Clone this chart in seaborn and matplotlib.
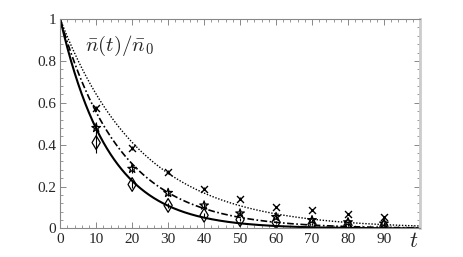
import numpy as np
import pandas as pd
import matplotlib
matplotlib.use("Agg")
import matplotlib.pyplot as plt
import seaborn as sns
from matplotlib.ticker import MultipleLocator, FixedLocator

# ---- data ----
t_points = [10, 20, 30, 40, 50, 60, 70, 80, 90]
series_x = [0.575, 0.385, 0.27, 0.19, 0.143, 0.103, 0.087, 0.068, 0.054]
series_star = [0.48, 0.285, 0.17, 0.11, 0.072, 0.055, 0.04, 0.03, 0.024]
series_diamond = [0.41, 0.21, 0.11, 0.063, 0.042, 0.03, 0.02, 0.015, 0.01]
err_x = [0.012, 0.01, 0.008, 0.006, 0.005, 0.004, 0.004, 0.004, 0.004]
err_star = [0.03, 0.02, 0.015, 0.012, 0.01, 0.008, 0.007, 0.006, 0.006]
err_diamond = [0.05, 0.015, 0.012, 0.01, 0.008, 0.006, 0.005, 0.005, 0.004]
# decay times of the theory curves n(t)/n0 = exp(-t/tau)
tau_dotted = 22.5
tau_dashdot = 17.0
tau_solid = 13.5
x_ticks = [0, 10, 20, 30, 40, 50, 60, 70, 80, 90]
y_ticks = [0, 0.2, 0.4, 0.6, 0.8, 1.0]
y_tick_labels = ["0", "0.2", "0.4", "0.6", "0.8", "1"]

sns.set_style("ticks")
plt.rcParams["font.family"] = ["Liberation Serif", "DejaVu Serif"]
plt.rcParams["mathtext.fontset"] = "cm"

fig = plt.figure(figsize=(4.63, 2.57), dpi=100)
ax = fig.add_axes([0.13, 0.111, 0.777, 0.815])

tgrid = np.linspace(0, 100, 400)
curves = pd.DataFrame({
    "t": tgrid,
    "dotted": np.exp(-tgrid / tau_dotted),
    "dashdot": np.exp(-tgrid / tau_dashdot),
    "solid": np.exp(-tgrid / tau_solid),
})
sns.lineplot(data=curves, x="t", y="dotted", ax=ax, color="black", lw=1.0,
             linestyle=(0, (1, 1.2)))
sns.lineplot(data=curves, x="t", y="dashdot", ax=ax, color="black", lw=1.2,
             linestyle=(0, (4, 1.5, 1, 1.5)))
sns.lineplot(data=curves, x="t", y="solid", ax=ax, color="black", lw=1.5)

for vals, errs, mk, ms in [(series_x, err_x, "x", 5),
                           (series_star, err_star, "*", 6.5),
                           (series_diamond, err_diamond, "d", 7)]:
    ax.errorbar(t_points, vals, yerr=errs, fmt="none", ecolor="black",
                elinewidth=0.8, capsize=0)
    df = pd.DataFrame({"t": t_points, "v": vals})
    if mk == "x":
        sns.scatterplot(data=df, x="t", y="v", ax=ax, marker="x", s=ms**2,
                        color="black", linewidth=1.0)
    else:
        sns.scatterplot(data=df, x="t", y="v", ax=ax, marker=mk, s=ms**2,
                        facecolor="none", edgecolor="black", linewidth=0.9)

ax.set_xlim(0, 100)
ax.set_ylim(0, 1)
ax.xaxis.set_major_locator(FixedLocator(x_ticks))
ax.xaxis.set_minor_locator(MultipleLocator(2))
ax.yaxis.set_major_locator(FixedLocator(y_ticks))
ax.set_yticklabels(y_tick_labels)
ax.yaxis.set_minor_locator(MultipleLocator(0.04))
ax.tick_params(which="both", direction="in", top=True, right=True,
               color="#888888", labelsize=11, pad=3)
ax.tick_params(which="major", length=4, width=0.7)
ax.tick_params(which="minor", length=2, width=0.6)
for side in ["left", "bottom", "top"]:
    ax.spines[side].set_color("#888888")
    ax.spines[side].set_linewidth(0.8)
ax.spines["right"].set_color("#cccccc")
ax.spines["right"].set_linewidth(2.0)
ax.set_xlabel("")
ax.set_ylabel("")

ax.text(0.07, 0.93, r"$\bar{n}(t)/\bar{n}_0$", transform=ax.transAxes,
        fontsize=15, ha="left", va="top")
ax.text(0.995, -0.02, r"$t$", transform=ax.transAxes, fontsize=16,
        ha="right", va="top")

fig.savefig("out.png", dpi=100)
